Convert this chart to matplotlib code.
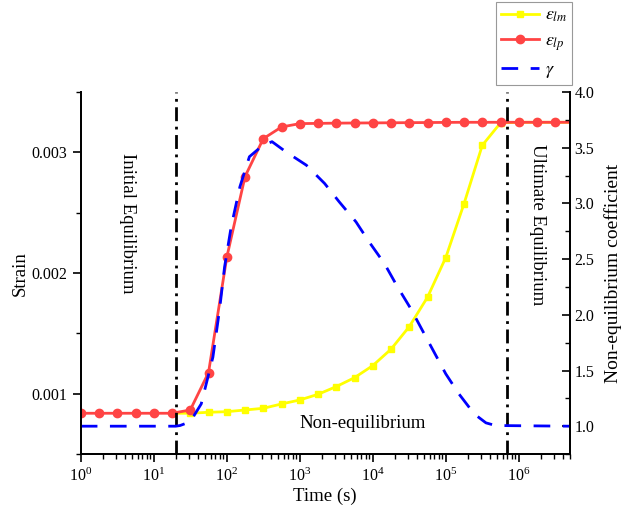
import numpy as np
import matplotlib
matplotlib.use('Agg')
import matplotlib.pyplot as plt
from matplotlib.ticker import MultipleLocator, LogLocator, NullFormatter

plt.rcParams['font.family'] = ['Liberation Serif', 'DejaVu Serif']
plt.rcParams['mathtext.fontset'] = 'stix'

# exposants log10 du temps (s)
exp_lp = [0, 0.25, 0.5, 0.75, 1.0, 1.25, 1.5, 1.75, 2.0, 2.25, 2.5, 2.75, 3.0,
          3.25, 3.5, 3.75, 4.0, 4.25, 4.5, 4.75, 5.0, 5.25, 5.5, 5.75, 6.0,
          6.25, 6.5, 6.7]
eps_lp = [0.000838, 0.000838, 0.000838, 0.000838, 0.000838, 0.000838,
          0.000865, 0.001175, 0.00213, 0.0028, 0.003114, 0.003211, 0.003239,
          0.003241, 0.003243, 0.003244, 0.003245, 0.003246, 0.003247,
          0.003248, 0.003249, 0.00325, 0.00325, 0.00325, 0.00325, 0.00325,
          0.00325, 0.00325]

exp_lm = [1.25, 1.5, 1.75, 2.0, 2.25, 2.5, 2.75, 3.0, 3.25, 3.5, 3.75, 4.0,
          4.25, 4.5, 4.75, 5.0, 5.25, 5.5, 5.75, 6.0, 6.25, 6.5, 6.7]
eps_lm = [0.000838, 0.000838, 0.000846, 0.000851, 0.000865, 0.000879,
          0.000915, 0.000948, 0.000995, 0.001059, 0.001133, 0.001233,
          0.001369, 0.001556, 0.0018, 0.002129, 0.002575, 0.003059, 0.003245,
          0.00325, 0.00325, 0.00325, 0.00325]

exp_g = [0, 1.3, 1.36, 1.5, 1.65, 1.81, 1.9, 1.97, 2.06, 2.18, 2.31, 2.49,
         2.62, 2.81, 3.09, 3.34, 3.54, 3.77, 3.95, 4.16, 4.34, 4.52, 4.68,
         4.84, 5.0, 5.18, 5.39, 5.55, 5.68, 6.7]
gamma = [1.0, 1.0, 1.006, 1.04, 1.2, 1.62, 2.04, 2.43, 2.79, 3.15, 3.42,
         3.52, 3.555, 3.464, 3.344, 3.18, 3.015, 2.835, 2.655, 2.46, 2.25,
         2.056, 1.86, 1.665, 1.47, 1.29, 1.11, 1.03, 1.006, 1.0]

t_init = 20
t_ult = 7e5

t_lp = 10 ** np.array(exp_lp)
t_lm = 10 ** np.array(exp_lm)
t_g = 10 ** np.array(exp_g)

fig = plt.figure(figsize=(6.31, 5.09), dpi=100)
ax = fig.add_axes([0.128, 0.108, 0.775, 0.711])
ax2 = ax.twinx()

l1, = ax.plot(t_lm, eps_lm, '-s', color='#FFFF00', lw=2, ms=5,
              markevery=slice(1, -1), label=r'$\varepsilon_{lm}$')
l2, = ax.plot(t_lp, eps_lp, '-o', color='#FF4444', lw=2, ms=6,
              markevery=slice(0, -1), label=r'$\varepsilon_{lp}$')
l3, = ax2.plot(t_g, gamma, color='#0000FF', lw=2, dashes=(6, 4.5),
               label=r'$\gamma$')

for tv in (t_init, t_ult):
    ax.axvline(tv, color='black', lw=2, ls=(0, (5, 2, 1, 2)))

ax.set_xscale('log')
ax.set_xlim(1, 5e6)
ax.set_ylim(0.0005, 0.0035)
ax2.set_ylim(0.75, 4.0)

ax.yaxis.set_major_locator(MultipleLocator(0.001))
ax.yaxis.set_minor_locator(MultipleLocator(0.0005))
ax.yaxis.set_major_formatter(plt.FuncFormatter(lambda v, p: f'{v:.3f}'))
ax2.yaxis.set_major_locator(MultipleLocator(0.5))
ax2.yaxis.set_minor_locator(MultipleLocator(0.25))
ax2.yaxis.set_major_formatter(plt.FuncFormatter(lambda v, p: f'{v:.1f}'))
ax.xaxis.set_major_locator(LogLocator(base=10, numticks=12))
ax.xaxis.set_minor_locator(LogLocator(base=10, subs=np.arange(2, 10), numticks=12))
ax.xaxis.set_minor_formatter(NullFormatter())

for a in (ax, ax2):
    a.spines['top'].set_visible(False)
    for s in a.spines.values():
        s.set_linewidth(1.3)
ax.tick_params(axis='both', which='major', direction='out', length=6,
               width=1.2, labelsize=11.5)
ax.tick_params(axis='both', which='minor', direction='out', length=3.5,
               width=1.0)
ax2.tick_params(axis='y', which='major', direction='in', length=6,
                width=1.2, labelsize=11.5)
ax2.tick_params(axis='y', which='minor', direction='in', length=3.5,
                width=1.0)

ax.set_xlabel('Time (s)', fontsize=13.5, labelpad=2)
ax.set_ylabel('Strain', fontsize=13.5, labelpad=2)
ax2.set_ylabel('Non-equilibrium coefficient', fontsize=14, labelpad=7)

ax.text(4.4, 0.00241, 'Initial Equilibrium', rotation=-90, fontsize=13.5,
        ha='center', va='center')
ax.text(1.78e6, 0.0024, 'Ultimate Equilibrium', rotation=-90, fontsize=13.5,
        ha='center', va='center')
ax.text(7200, 0.00075, 'Non-equilibrium', fontsize=13.5,
        ha='center', va='center')

leg = fig.legend(handles=[l1, l2, l3], loc='upper right',
                 bbox_to_anchor=(0.907, 0.997), fontsize=13, frameon=True,
                 fancybox=False, edgecolor='#999999', framealpha=1,
                 handlelength=2.1, borderpad=0.3, labelspacing=0.45,
                 handletextpad=0.3, borderaxespad=0.0)
leg.get_frame().set_linewidth(0.8)

fig.savefig('out.png', dpi=100)
plt.close(fig)
